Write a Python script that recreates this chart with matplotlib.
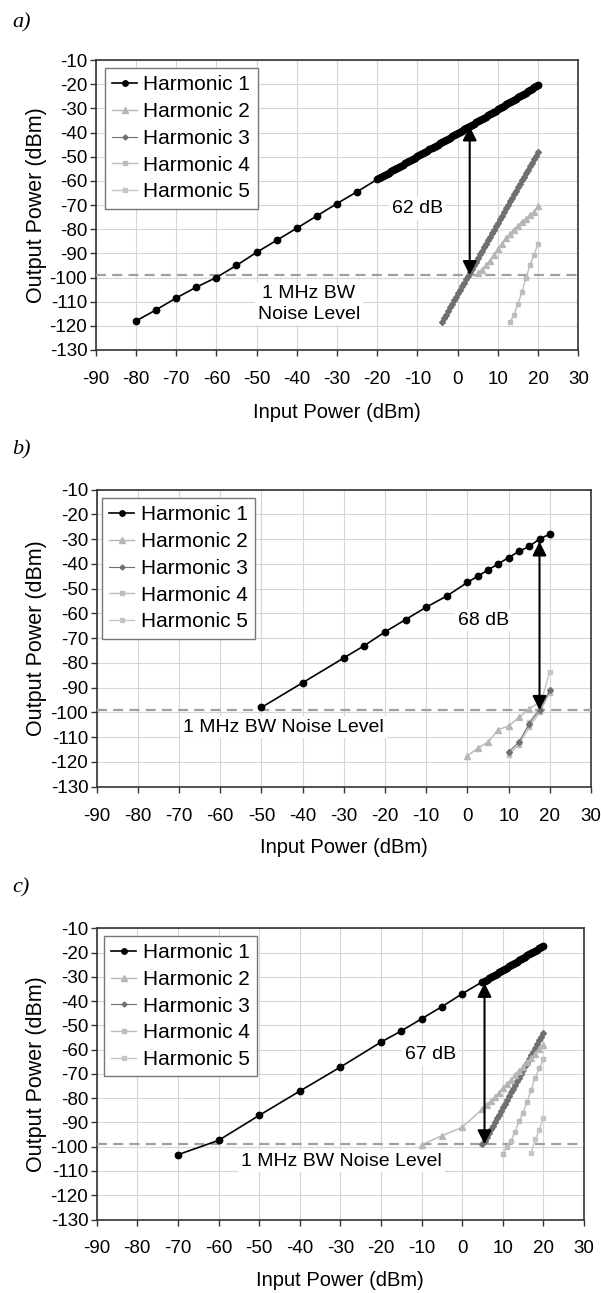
import matplotlib
matplotlib.use('Agg')
import matplotlib.pyplot as plt

plt.rcParams['font.family'] = ['Liberation Sans', 'DejaVu Sans']
plt.rcParams['axes.unicode_minus'] = False

# ---------- painel a ----------
a_h1_x = [-80, -75, -70, -65, -60, -55, -50, -45, -40, -35, -30, -25,
          -20, -19.5, -19, -18.5, -18, -17.5, -17, -16.5, -16, -15.5, -15, -14.5, -14, -13.5,
          -13, -12.5, -12, -11.5, -11, -10.5, -10, -9.5, -9, -8.5, -8, -7.5, -7, -6.5, -6,
          -5.5, -5, -4.5, -4, -3.5, -3, -2.5, -2, -1.5, -1, -0.5, 0, 0.5, 1, 1.5, 2, 2.5, 3,
          3.5, 4, 4.5, 5, 5.5, 6, 6.5, 7, 7.5, 8, 8.5, 9, 9.5, 10, 10.5, 11, 11.5, 12, 12.5,
          13, 13.5, 14, 14.5, 15, 15.5, 16, 16.5, 17, 17.5, 18, 18.5, 19, 19.5, 20]
a_h1_y = [-118.0, -113.4, -108.5, -104.0, -100.0, -95.0, -89.6, -84.6, -79.6, -74.5, -69.4, -64.5,
          -59.4, -58.9, -58.5, -58.0, -57.6, -57.1, -56.6, -56.1, -55.7, -55.2, -54.7, -54.2,
          -53.8, -53.3, -52.8, -52.3, -51.8, -51.4, -50.9, -50.4, -49.9, -49.4, -48.9, -48.4,
          -47.9, -47.5, -47.0, -46.5, -46.0, -45.5, -45.0, -44.5, -44.0, -43.6, -43.1, -42.6,
          -42.1, -41.6, -41.1, -40.7, -40.2, -39.7, -39.2, -38.7, -38.2, -37.8, -37.3, -36.8,
          -36.3, -35.8, -35.3, -34.8, -34.3, -33.9, -33.4, -32.9, -32.4, -31.9, -31.4, -30.9,
          -30.4, -29.9, -29.4, -28.9, -28.4, -27.9, -27.4, -26.9, -26.4, -26.0, -25.5, -25.0,
          -24.5, -24.0, -23.5, -23.0, -22.4, -21.9, -21.3, -20.8, -20.2]
a_h2_x = [5, 6, 7, 8, 9, 10, 11, 12, 13, 14, 15, 16, 17, 18, 19, 20]
a_h2_y = [-98.0, -96.8, -95.0, -93.0, -90.6, -88.4, -86.0, -83.8, -82.0, -80.2, -78.5, -77.0,
          -75.6, -74.3, -73.0, -70.6]
a_h3_x = [-4, -3.5, -3, -2.5, -2, -1.5, -1, -0.5, 0, 0.5, 1, 1.5, 2, 2.5, 3, 3.5, 4, 4.5, 5,
          5.5, 6, 6.5, 7, 7.5, 8, 8.5, 9, 9.5, 10, 10.5, 11, 11.5, 12, 12.5, 13, 13.5, 14, 14.5,
          15, 15.5, 16, 16.5, 17, 17.5, 18, 18.5, 19, 19.5, 20]
a_h3_y = [-118.3, -116.8, -115.4, -113.9, -112.4, -111.0, -109.5, -108.0, -106.6, -105.1, -103.6,
          -102.2, -100.7, -99.2, -97.8, -96.3, -94.8, -93.4, -91.9, -90.4, -89.0, -87.5, -86.0,
          -84.6, -83.1, -81.7, -80.2, -78.7, -77.3, -75.8, -74.4, -72.9, -71.4, -70.0, -68.5,
          -67.1, -65.6, -64.2, -62.7, -61.3, -59.8, -58.3, -56.9, -55.4, -54.0, -52.5, -51.1,
          -49.6, -48.1]
a_h4_x = [13, 14, 15, 16, 17, 18, 19, 20]
a_h4_y = [-118.5, -115.5, -111.0, -106.0, -100.0, -95.0, -90.5, -86.0]
a_h5_x = []
a_h5_y = []

# ---------- painel b ----------
b_h1_x = [-50, -40, -30, -25, -20, -15, -10, -5, 0, 2.5, 5, 7.5, 10, 12.5, 15, 17.5, 20]
b_h1_y = [-98.0, -88.0, -78.0, -73.0, -67.5, -62.5, -57.5, -53.0, -47.5, -45.0, -42.5, -40.0,
          -37.5, -35.0, -33.0, -30.0, -28.0]
b_h2_x = [0, 2.5, 5, 7.5, 10, 12.5, 15, 17.5]
b_h2_y = [-117.5, -114.5, -112.0, -107.0, -105.5, -102.0, -98.5, -96.0]
b_h3_x = [10, 12.5, 15, 17.5, 20]
b_h3_y = [-116.0, -112.0, -104.5, -99.0, -91.0]
b_h4_x = [10, 12.5, 15, 17.5, 20]
b_h4_y = [-117.0, -113.0, -106.0, -100.0, -92.0]
b_h5_x = [15, 17.5, 20]
b_h5_y = [-104.0, -98.0, -83.5]

# ---------- painel c ----------
c_h1_x = [-70, -60, -50, -40, -30, -20, -15, -10, -5, 0,
          5, 5.5, 6, 6.5, 7, 7.5, 8, 8.5, 9, 9.5, 10, 10.5, 11, 11.5, 12, 12.5, 13, 13.5, 14,
          14.5, 15, 15.5, 16, 16.5, 17, 17.5, 18, 18.5, 19, 19.5, 20]
c_h1_y = [-103.3, -97.4, -87.1, -77.1, -67.2, -56.9, -52.3, -47.3, -42.3, -37.0,
          -32.0, -31.6, -31.1, -30.6, -30.1, -29.6, -29.2, -28.7, -28.2, -27.7, -27.2, -26.7,
          -26.2, -25.7, -25.2, -24.7, -24.2, -23.7, -23.2, -22.7, -22.2, -21.7, -21.2, -20.7,
          -20.2, -19.7, -19.2, -18.8, -18.3, -17.8, -17.3]
c_h2_x = [-10, -5, 0, 5, 6, 7, 8, 9, 10, 11, 12, 13, 14, 15, 16, 17, 18, 19, 20]
c_h2_y = [-99.2, -95.5, -92.0, -84.5, -83.0, -81.2, -79.5, -77.7, -75.9, -74.1, -72.4, -70.6,
          -68.8, -67.0, -65.2, -63.5, -61.7, -59.8, -58.0]
c_h3_x = [5, 5.5, 6, 6.5, 7, 7.5, 8, 8.5, 9, 9.5, 10, 10.5, 11, 11.5, 12, 12.5, 13, 13.5, 14,
          14.5, 15, 15.5, 16, 16.5, 17, 17.5, 18, 18.5, 19, 19.5, 20]
c_h3_y = [-99.0, -97.5, -96.0, -94.4, -92.9, -91.4, -89.8, -88.3, -86.8, -85.3, -83.7, -82.2,
          -80.7, -79.1, -77.6, -76.1, -74.6, -73.0, -71.5, -70.0, -68.4, -66.9, -65.4, -63.9,
          -62.3, -60.8, -59.3, -57.8, -56.2, -54.7, -53.2]
c_h4_x = [10, 11, 12, 13, 14, 15, 16, 17, 18, 19, 20]
c_h4_y = [-103.0, -100.0, -97.5, -94.0, -89.5, -86.0, -81.5, -76.5, -71.5, -67.5, -64.0]
c_h5_x = [17, 18, 19, 20]
c_h5_y = [-102.5, -97.0, -93.0, -88.0]

nivel_ruido = -99
x_ticks = [-90, -80, -70, -60, -50, -40, -30, -20, -10, 0, 10, 20, 30]
y_ticks = [-130, -120, -110, -100, -90, -80, -70, -60, -50, -40, -30, -20, -10]

W, H = 601, 1293


def painel(fig, caixa, series, seta, txt_db, txt_ruido, pos_legenda, label_y_x, label_x_y):
    esq, dir, topo, base = caixa
    ax = fig.add_axes([esq / W, 1 - base / H, (dir - esq) / W, (base - topo) / H])
    ax.set_xlim(-90, 30)
    ax.set_ylim(-130, -10)
    ax.set_xticks(x_ticks)
    ax.set_yticks(y_ticks)
    ax.grid(True, color='#d6d6d6', linewidth=0.8)
    ax.set_axisbelow(True)
    for s in ax.spines.values():
        s.set_color('#333333')
        s.set_linewidth(1.2)
    ax.tick_params(axis='both', direction='out', length=4.5, width=1, color='#333333',
                   labelsize=13.5)
    ax.tick_params(axis='x', pad=10.5)
    ax.tick_params(axis='y', pad=1.5)

    estilos = [
        dict(color='black', marker='o', markersize=4.6, linewidth=1.2),
        dict(color='#b6b6b6', marker='^', markersize=4.5, linewidth=1.0),
        dict(color='#707070', marker='D', markersize=3.0, linewidth=0.8),
        dict(color='#bdbdbd', marker='s', markersize=3.2, linewidth=1.0),
        dict(color='#c6c6c6', marker='s', markersize=3.2, linewidth=1.0),
    ]
    for i, (xs, ys) in enumerate(series):
        ax.plot(xs, ys, label='Harmonic %d' % (i + 1), zorder=5 - i * 0.1, **estilos[i])

    ax.axhline(nivel_ruido, color='#a0a0a0', linewidth=1.6, linestyle=(0, (4.5, 2.8)), zorder=3)

    sx, sy0, sy1 = seta
    ax.annotate('', xy=(sx, sy0), xytext=(sx, sy1),
                arrowprops=dict(arrowstyle='<|-|>,head_length=0.6,head_width=0.3',
                                color='black', lw=1.5, mutation_scale=14,
                                shrinkA=0, shrinkB=0), zorder=8)

    caixa_branca = dict(facecolor='white', edgecolor='none', pad=2)
    ax.text(txt_db[0], txt_db[1], txt_db[2], fontsize=14, ha='center', va='center',
            bbox=caixa_branca, zorder=4)
    ax.text(txt_ruido[0], txt_ruido[1], txt_ruido[2], fontsize=14, ha='center', va='center',
            linespacing=1.25, bbox=caixa_branca, zorder=4)

    leg = ax.legend(loc='upper left', bbox_to_anchor=pos_legenda, borderaxespad=0,
                    fontsize=15, frameon=True, fancybox=False, framealpha=1,
                    edgecolor='#777777', handlelength=1.2, handletextpad=0.3,
                    labelspacing=0.37, borderpad=0.35, markerscale=0.85)
    leg.get_frame().set_linewidth(1.0)
    leg.set_zorder(10)

    ax.set_xlabel('Input Power (dBm)', fontsize=14.5)
    ax.set_ylabel('Output Power (dBm)', fontsize=15.5)
    ax.yaxis.set_label_coords(label_y_x, 0.5)
    ax.xaxis.set_label_coords(0.5, label_x_y)
    return ax


fig = plt.figure(figsize=(W / 100, H / 100), dpi=100)

painel(fig, (95.7, 578.3, 60, 350),
       [(a_h1_x, a_h1_y), (a_h2_x, a_h2_y), (a_h3_x, a_h3_y), (a_h4_x, a_h4_y), (a_h5_x, a_h5_y)],
       (3, -37.5, -99), (-10, -71.4, '62 dB'), (-37, -111, '1 MHz BW\nNoise Level'),
       (0.019, 0.972), -0.1, -0.183)

painel(fig, (96.7, 591, 489.5, 786.7),
       [(b_h1_x, b_h1_y), (b_h2_x, b_h2_y), (b_h3_x, b_h3_y), (b_h4_x, b_h4_y), (b_h5_x, b_h5_y)],
       (17.5, -31, -99), (3.8, -62.7, '68 dB'), (-44.6, -106, '1 MHz BW Noise Level'),
       (0.011, 0.971), -0.1, -0.173)

painel(fig, (96.7, 584, 928.3, 1219.5),
       [(c_h1_x, c_h1_y), (c_h2_x, c_h2_y), (c_h3_x, c_h3_y), (c_h4_x, c_h4_y), (c_h5_x, c_h5_y)],
       (5.5, -32.5, -99), (-7.9, -62.1, '67 dB'), (-29.7, -106, '1 MHz BW Noise Level'),
       (0.015, 0.974), -0.101, -0.177)

for letra, y in [('a)', 23), ('b)', 450), ('c)', 888)]:
    fig.text(12 / W, 1 - y / H, letra, fontsize=16, family='Liberation Serif',
             style='italic', va='center', ha='left')

fig.savefig('out.png', dpi=100)
